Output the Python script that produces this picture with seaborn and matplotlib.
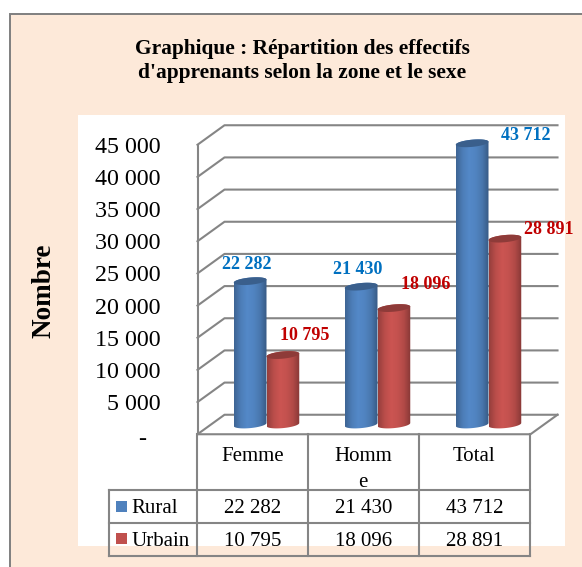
import numpy as np
import pandas as pd
import matplotlib
matplotlib.use("Agg")
import matplotlib.pyplot as plt
from matplotlib.colors import LinearSegmentedColormap
from matplotlib.patches import Polygon, Rectangle
from matplotlib.transforms import Affine2D
import seaborn as sns

categories = ["Femme", "Homme", "Total"]
category_labels = ["Femme", "Homm\ne", "Total"]
rural = [22282, 21430, 43712]
urbain = [10795, 18096, 28891]
rural_text = ["22 282", "21 430", "43 712"]
urbain_text = ["10 795", "18 096", "28 891"]
ticks = [0, 5000, 10000, 15000, 20000, 25000, 30000, 35000, 40000, 45000]
tick_text = ["-", "5 000", "10 000", "15 000", "20 000", "25 000", "30 000", "35 000", "40 000", "45 000"]
title = "Graphique : Répartition des effectifs\nd'apprenants selon la zone et le sexe"

W, H = 582, 567
BG = "#FDE9D9"
LINE = "#858585"
BLUE = "#4F81BD"
RED = "#C0504D"
sns.set_theme(style="white")
plt.rcParams["font.family"] = ["Liberation Serif", "DejaVu Serif"]

fig = plt.figure(figsize=(W / 100, H / 100), dpi=100, facecolor="white")

# page layer, in pixel coordinates
page = fig.add_axes([0, 0, 1, 1], zorder=0)
page.set_xlim(0, W)
page.set_ylim(H, 0)
page.axis("off")
page.add_patch(Rectangle((10, 14), W - 10, H - 14, fc=BG, ec="none"))
page.add_patch(Rectangle((78, 115), 487, 431, fc="white", ec="none"))
page.plot([10, 10, W], [H, 14, 14], color="#7F7F7F", lw=1.4, solid_joinstyle="miter")
page.text(302, 61, title, ha="center", va="center", fontsize=15.4, fontweight="bold",
          color="black", linespacing=1.32)
page.text(44, 291, "Nombre", rotation=90, ha="center", va="center", fontsize=19.5,
          fontweight="bold", color="black")

# chart layer
L, R, B, T = 211, 544, 424.5, 135
ax = fig.add_axes([L / W, 1 - B / H, (R - L) / W, (B - T) / H], zorder=2)
ax.patch.set_alpha(0)
df = pd.DataFrame({
    "cat": categories * 2,
    "val": rural + urbain,
    "zone": ["Rural"] * 3 + ["Urbain"] * 3,
})
sns.barplot(data=df, x="cat", y="val", hue="zone", palette=[BLUE, RED], width=0.59,
            gap=0, legend=False, ax=ax, saturation=1, zorder=3)
ax.set_xlim(-0.5, 2.5)
ax.set_ylim(0, 45000)
ax.set_xlabel("")
ax.set_ylabel("")
ax.set_xticks([])
sns.despine(ax=ax, left=True, bottom=True)

px_x = 3 / (R - L)
px_y = 45000 / (B - T)
dx, dy = 13.5 * px_x, 9.75 * px_y

# walls and floor
line_kw = dict(color=LINE, lw=1.5, clip_on=False, zorder=1, solid_capstyle="projecting")
for v in ticks:
    ax.plot([-0.5 - dx, -0.5 + dx, 2.5 + dx], [v - dy, v + dy, v + dy], **line_kw)
ax.plot([-0.5 - dx, -0.5 - dx], [-dy, 45000 - dy], **line_kw)
ax.plot([-0.5 - dx, 2.5 - dx, 2.5 + dx], [-dy, -dy, dy], **line_kw)

# y labels sit on the front edge of the side wall
ax.set_yticks(ticks, tick_text, fontsize=17.3, color="black")
ax.tick_params(axis="y", length=0, pad=36.5)
for i, lab in enumerate(ax.get_yticklabels()):
    shift = (-14, -12) if i == 0 else (0, -9.75)
    lab.set_transform(lab.get_transform() + Affine2D().translate(*shift))


# cylinders built from the seaborn bars
def shade(col):
    c = np.array(matplotlib.colors.to_rgb(col))
    stops = [c * 0.78, c * 0.97, np.minimum(c * 1.06, 1), c * 1.02, c * 0.92, c * 0.70]
    return LinearSegmentedColormap.from_list("c", stops)


grad = np.linspace(0, 1, 64)[None, :]
ry = 3.6 * px_y
tilt = 1.5 * px_y
label_offsets = [[(-3, 17), (-3, 17), (54, 8)], [(22, 20), (32, 24), (44, 9)]]
for cont, col, texts, color, offs in zip(
    ax.containers, [BLUE, RED], [rural_text, urbain_text], ["#0070C0", "#C00000"], label_offsets,
):
    dark = np.array(matplotlib.colors.to_rgb(col)) * 0.74
    for patch, txt, off in zip(cont, texts, offs):
        x0, w = patch.get_x(), patch.get_width()
        v = patch.get_height()
        cx, rx = x0 + w / 2, w / 2
        ang = np.linspace(0, np.pi, 50)
        upper = np.c_[cx + rx * np.cos(ang), v + tilt * np.cos(ang) + ry * np.sin(ang)]
        lower = np.c_[cx - rx * np.cos(ang), -tilt * np.cos(ang) - ry * np.sin(ang)]
        poly = Polygon(np.r_[upper, lower], closed=True, transform=ax.transData,
                       fc="none", ec="none", clip_on=False)
        ax.add_patch(poly)
        patch.set_visible(False)
        im = ax.imshow(grad, cmap=shade(col), vmin=0, vmax=1,
                       extent=(x0, x0 + w, -ry - tilt, v + ry + tilt),
                       aspect="auto", zorder=3, interpolation="bilinear")
        im.set_clip_path(poly)
        im.set_clip_box(fig.bbox)
        ang2 = np.linspace(0, 2 * np.pi, 80)
        cap = Polygon(np.c_[cx + rx * np.cos(ang2), v + tilt * np.cos(ang2) + ry * np.sin(ang2)],
                      closed=True, fc=dark, ec="none", zorder=4, clip_on=False)
        ax.add_patch(cap)
        ax.annotate(txt, (cx, v), xytext=off, textcoords="offset pixels", ha="center",
                    va="center", fontsize=13, fontweight="bold", color=color,
                    annotation_clip=False, zorder=5)
ax.set_xlim(-0.5, 2.5)
ax.set_ylim(0, 45000)

# data table
tx = [197, 308, 418.5, 530]
ty = [434, 490, 523, 556]
table_kw = dict(color=LINE, lw=1.5, solid_capstyle="projecting")
for x in tx:
    page.plot([x, x], [ty[0], ty[3]], **table_kw)
page.plot([109, 109], [ty[1], ty[3]], **table_kw)
for y in ty[1:]:
    page.plot([109, tx[3]], [y, y], **table_kw)
cen = [(tx[i] + tx[i + 1]) / 2 for i in range(3)]
cell = dict(ha="center", va="center", fontsize=15, color="black")
for c, lab in zip(cen, category_labels):
    page.text(c, 447, lab, ha="center", va="top", fontsize=15, color="black", linespacing=1.5)
for c, a, b in zip(cen, rural_text, urbain_text):
    page.text(c, 508.5, a, **cell)
    page.text(c, 541.5, b, **cell)
page.add_patch(Rectangle((116, 501), 11, 11, fc=BLUE, ec="none"))
page.add_patch(Rectangle((116, 533), 11, 11, fc=RED, ec="none"))
page.text(131, 508.5, "Rural", ha="left", va="center", fontsize=15, color="black")
page.text(131, 541.5, "Urbain", ha="left", va="center", fontsize=15, color="black")

fig.savefig("out.png", dpi=100, facecolor="white")
